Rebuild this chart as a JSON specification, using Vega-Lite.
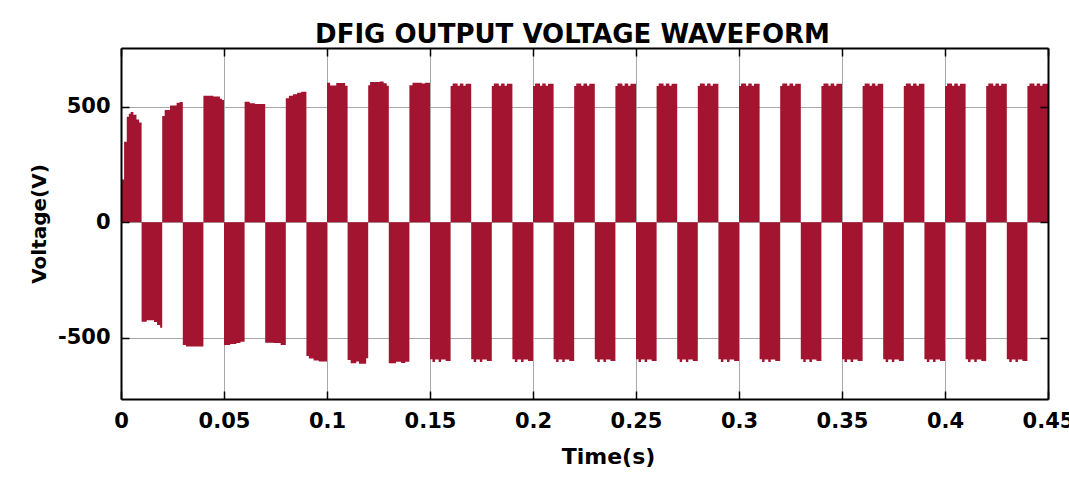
{
  "$schema": "https://vega.github.io/schema/vega-lite/v6.json",
  "width": 927,
  "height": 351,
  "autosize": {"type": "none"},
  "padding": {"left": 121, "top": 48, "right": 21, "bottom": 79},
  "background": "white",
  "config": {"view": {"stroke": null}, "font": "DejaVu Sans"},
  "title": {"text": "DFIG OUTPUT VOLTAGE WAVEFORM", "font": "DejaVu Sans", "fontSize": 26, "fontWeight": "bold", "color": "black", "anchor": "middle", "dx": -12, "dy": 25, "offset": 3, "baseline": "alphabetic"},
  "data": {"values": [
    {"t":0,"v":42},{"t":0.0004,"v":186},{"t":0.0015,"v":349},{"t":0.0028,"v":457},{"t":0.0038,"v":470},{"t":0.0047,"v":478},{"t":0.006,"v":466},{"t":0.0075,"v":445},{"t":0.0088,"v":432},
    {"t":0.01,"v":-430},{"t":0.0125,"v":-424},{"t":0.016,"v":-432},{"t":0.0175,"v":-445},{"t":0.019,"v":-456},
    {"t":0.02,"v":460},{"t":0.0212,"v":486},{"t":0.0238,"v":506},{"t":0.027,"v":518},{"t":0.0285,"v":521},
    {"t":0.03,"v":-531},{"t":0.0315,"v":-538},
    {"t":0.04,"v":548},{"t":0.0448,"v":545},{"t":0.048,"v":535},{"t":0.049,"v":530},
    {"t":0.05,"v":-531},{"t":0.053,"v":-527},{"t":0.056,"v":-522},{"t":0.058,"v":-517},
    {"t":0.06,"v":522},{"t":0.0625,"v":516},{"t":0.065,"v":513},
    {"t":0.07,"v":-521},{"t":0.074,"v":-523},{"t":0.0775,"v":-531},
    {"t":0.08,"v":537},{"t":0.0815,"v":548},{"t":0.0835,"v":555},{"t":0.0855,"v":561},{"t":0.0875,"v":566},
    {"t":0.09,"v":-579},{"t":0.0912,"v":-590},{"t":0.0935,"v":-598},{"t":0.096,"v":-603},
    {"t":0.1,"v":604},{"t":0.1015,"v":593},{"t":0.1045,"v":603},{"t":0.1088,"v":592},
    {"t":0.11,"v":-596},{"t":0.1115,"v":-610},{"t":0.1142,"v":-603},{"t":0.1155,"v":-612},{"t":0.119,"v":-589},
    {"t":0.12,"v":594},{"t":0.1209,"v":608},{"t":0.1255,"v":610},{"t":0.1275,"v":602},{"t":0.129,"v":592},
    {"t":0.13,"v":-610},{"t":0.1335,"v":-604},{"t":0.136,"v":-609},{"t":0.138,"v":-604},
    {"t":0.14,"v":594},{"t":0.1415,"v":604},{"t":0.146,"v":601},{"t":0.1475,"v":604},
    {"t":0.15,"v":-593},{"t":0.1512,"v":-605},{"t":0.1524,"v":-594},{"t":0.1542,"v":-605},{"t":0.1554,"v":-594},{"t":0.1576,"v":-600},
    {"t":0.16,"v":590},{"t":0.161,"v":601},{"t":0.1634,"v":591},{"t":0.1645,"v":601},{"t":0.1662,"v":591},{"t":0.1673,"v":600},
    {"t":0.17,"v":-593},{"t":0.1712,"v":-605},{"t":0.1724,"v":-594},{"t":0.1742,"v":-605},{"t":0.1754,"v":-594},{"t":0.1776,"v":-600},
    {"t":0.18,"v":590},{"t":0.181,"v":601},{"t":0.1834,"v":591},{"t":0.1845,"v":601},{"t":0.1862,"v":591},{"t":0.1873,"v":600},
    {"t":0.19,"v":-593},{"t":0.1912,"v":-605},{"t":0.1924,"v":-594},{"t":0.1942,"v":-605},{"t":0.1954,"v":-594},{"t":0.1976,"v":-600},
    {"t":0.2,"v":590},{"t":0.201,"v":601},{"t":0.2034,"v":591},{"t":0.2045,"v":601},{"t":0.2062,"v":591},{"t":0.2073,"v":600},
    {"t":0.21,"v":-593},{"t":0.2112,"v":-605},{"t":0.2124,"v":-594},{"t":0.2142,"v":-605},{"t":0.2154,"v":-594},{"t":0.2176,"v":-600},
    {"t":0.22,"v":590},{"t":0.221,"v":601},{"t":0.2234,"v":591},{"t":0.2245,"v":601},{"t":0.2262,"v":591},{"t":0.2273,"v":600},
    {"t":0.23,"v":-593},{"t":0.2312,"v":-605},{"t":0.2324,"v":-594},{"t":0.2342,"v":-605},{"t":0.2354,"v":-594},{"t":0.2376,"v":-600},
    {"t":0.24,"v":590},{"t":0.241,"v":601},{"t":0.2434,"v":591},{"t":0.2445,"v":601},{"t":0.2462,"v":591},{"t":0.2473,"v":600},
    {"t":0.25,"v":-593},{"t":0.2512,"v":-605},{"t":0.2524,"v":-594},{"t":0.2542,"v":-605},{"t":0.2554,"v":-594},{"t":0.2576,"v":-600},
    {"t":0.26,"v":590},{"t":0.261,"v":601},{"t":0.2634,"v":591},{"t":0.2645,"v":601},{"t":0.2662,"v":591},{"t":0.2673,"v":600},
    {"t":0.27,"v":-593},{"t":0.2712,"v":-605},{"t":0.2724,"v":-594},{"t":0.2742,"v":-605},{"t":0.2754,"v":-594},{"t":0.2776,"v":-600},
    {"t":0.28,"v":590},{"t":0.281,"v":601},{"t":0.2834,"v":591},{"t":0.2845,"v":601},{"t":0.2862,"v":591},{"t":0.2873,"v":600},
    {"t":0.29,"v":-593},{"t":0.2912,"v":-605},{"t":0.2924,"v":-594},{"t":0.2942,"v":-605},{"t":0.2954,"v":-594},{"t":0.2976,"v":-600},
    {"t":0.3,"v":590},{"t":0.301,"v":601},{"t":0.3034,"v":591},{"t":0.3045,"v":601},{"t":0.3062,"v":591},{"t":0.3073,"v":600},
    {"t":0.31,"v":-593},{"t":0.3112,"v":-605},{"t":0.3124,"v":-594},{"t":0.3142,"v":-605},{"t":0.3154,"v":-594},{"t":0.3176,"v":-600},
    {"t":0.32,"v":590},{"t":0.321,"v":601},{"t":0.3234,"v":591},{"t":0.3245,"v":601},{"t":0.3262,"v":591},{"t":0.3273,"v":600},
    {"t":0.33,"v":-593},{"t":0.3312,"v":-605},{"t":0.3324,"v":-594},{"t":0.3342,"v":-605},{"t":0.3354,"v":-594},{"t":0.3376,"v":-600},
    {"t":0.34,"v":590},{"t":0.341,"v":601},{"t":0.3434,"v":591},{"t":0.3445,"v":601},{"t":0.3462,"v":591},{"t":0.3473,"v":600},
    {"t":0.35,"v":-593},{"t":0.3512,"v":-605},{"t":0.3524,"v":-594},{"t":0.3542,"v":-605},{"t":0.3554,"v":-594},{"t":0.3576,"v":-600},
    {"t":0.36,"v":590},{"t":0.361,"v":601},{"t":0.3634,"v":591},{"t":0.3645,"v":601},{"t":0.3662,"v":591},{"t":0.3673,"v":600},
    {"t":0.37,"v":-593},{"t":0.3712,"v":-605},{"t":0.3724,"v":-594},{"t":0.3742,"v":-605},{"t":0.3754,"v":-594},{"t":0.3776,"v":-600},
    {"t":0.38,"v":590},{"t":0.381,"v":601},{"t":0.3834,"v":591},{"t":0.3845,"v":601},{"t":0.3862,"v":591},{"t":0.3873,"v":600},
    {"t":0.39,"v":-593},{"t":0.3912,"v":-605},{"t":0.3924,"v":-594},{"t":0.3942,"v":-605},{"t":0.3954,"v":-594},{"t":0.3976,"v":-600},
    {"t":0.4,"v":590},{"t":0.401,"v":601},{"t":0.4034,"v":591},{"t":0.4045,"v":601},{"t":0.4062,"v":591},{"t":0.4073,"v":600},
    {"t":0.41,"v":-593},{"t":0.4112,"v":-605},{"t":0.4124,"v":-594},{"t":0.4142,"v":-605},{"t":0.4154,"v":-594},{"t":0.4176,"v":-600},
    {"t":0.42,"v":590},{"t":0.421,"v":601},{"t":0.4234,"v":591},{"t":0.4245,"v":601},{"t":0.4262,"v":591},{"t":0.4273,"v":600},
    {"t":0.43,"v":-593},{"t":0.4312,"v":-605},{"t":0.4324,"v":-594},{"t":0.4342,"v":-605},{"t":0.4354,"v":-594},{"t":0.4376,"v":-600},
    {"t":0.44,"v":590},{"t":0.441,"v":601},{"t":0.4434,"v":591},{"t":0.4445,"v":601},{"t":0.4462,"v":591},{"t":0.4473,"v":600},
    {"t":0.45,"v":600}
  ]},
  "layer": [
    {
      "mark": {"type": "area", "interpolate": "step-after", "color": "#A2142F"},
      "encoding": {
        "x": {"field": "t", "type": "quantitative", "scale": {"domain": [0, 0.45], "nice": false, "zero": false},
          "axis": {"orient": "bottom", "values": [0,0.05,0.1,0.15,0.2,0.25,0.3,0.35,0.4,0.45], "grid": true, "gridColor": "#a8a8a8", "gridWidth": 1, "gridOpacity": 1, "labels": false, "ticks": false, "domain": false, "title": null, "zindex": 0}},
        "y": {"field": "v", "type": "quantitative", "scale": {"domain": [-765, 755], "nice": false},
          "axis": {"orient": "left", "values": [-500, 0, 500], "grid": true, "gridColor": "#a8a8a8", "gridWidth": 1, "gridOpacity": 1, "labels": false, "ticks": false, "domain": false, "title": null, "zindex": 0}}
      }
    },
    {
      "mark": {"type": "area", "interpolate": "step-after", "opacity": 0},
      "encoding": {
        "x": {"field": "t", "type": "quantitative",
          "axis": {"orient": "bottom", "values": [0,0.05,0.1,0.15,0.2,0.25,0.3,0.35,0.4,0.45], "labelExpr": "toString(datum.value)", "grid": false, "domain": true, "domainColor": "black", "domainWidth": 2, "tickSize": -8, "tickColor": "black", "tickWidth": 1.5, "labelFont": "DejaVu Sans", "labelFontSize": 21, "labelFontWeight": "bold", "labelColor": "black", "labelPadding": 19, "labelFlush": false, "labelOverlap": false, "labelBound": false, "title": "Time(s)", "titleFont": "DejaVu Sans", "titleFontSize": 22, "titleFontWeight": "bold", "titleColor": "black", "titleX": 487, "titleY": 64, "titleAlign": "center", "titleBaseline": "alphabetic", "zindex": 1}},
        "y": {"field": "v", "type": "quantitative",
          "axis": {"orient": "left", "values": [-500, 0, 500], "labelExpr": "toString(datum.value)", "grid": false, "domain": true, "domainColor": "black", "domainWidth": 2, "tickSize": -8, "tickColor": "black", "tickWidth": 1.5, "labelFont": "DejaVu Sans", "labelFontSize": 21, "labelFontWeight": "bold", "labelColor": "black", "labelPadding": 19, "labelOverlap": false, "labelBound": false, "title": "Voltage(V)", "titleFont": "DejaVu Sans", "titleFontSize": 20, "titleFontWeight": "bold", "titleColor": "black", "titleX": -82, "titleY": 175.5, "titleAngle": 270, "titleAlign": "center", "titleBaseline": "middle", "zindex": 1}}
      }
    },
    {
      "mark": {"type": "area", "interpolate": "step-after", "opacity": 0},
      "encoding": {
        "x": {"field": "t", "type": "quantitative",
          "axis": {"orient": "top", "values": [0,0.05,0.1,0.15,0.2,0.25,0.3,0.35,0.4,0.45], "grid": false, "labels": false, "title": null, "domain": true, "domainColor": "black", "domainWidth": 2, "tickSize": -8, "tickColor": "black", "tickWidth": 1.5, "zindex": 1}},
        "y": {"field": "v", "type": "quantitative",
          "axis": {"orient": "right", "values": [-500, 0, 500], "grid": false, "labels": false, "title": null, "domain": true, "domainColor": "black", "domainWidth": 2, "tickSize": -8, "tickColor": "black", "tickWidth": 1.5, "zindex": 1}}
      }
    }
  ],
  "resolve": {"axis": {"x": "independent", "y": "independent"}}
}
